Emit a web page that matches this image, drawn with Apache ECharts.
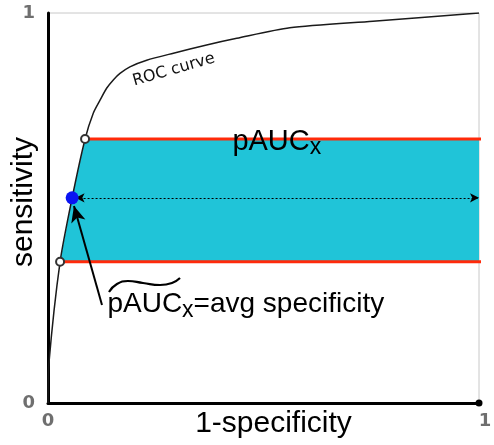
<!DOCTYPE html>
<html>
<head>
<meta charset="utf-8">
<style>
  html, body { margin: 0; padding: 0; background: #fff; }
  #chart { width: 494px; height: 445px; }
</style>
<script src="https://cdn.jsdelivr.net/npm/echarts@6/dist/echarts.min.js"></script>
</head>
<body>
<div id="chart"></div>
<script>
// ROC curve (1-specificity, sensitivity)
var rocX = [0, 0.002, 0.028, 0.056, 0.086, 0.105, 0.121, 0.136, 0.152, 0.167, 0.190, 0.229, 0.291, 0.368, 0.438, 0.561, 0.754, 1];
var rocY = [0, 0.10, 0.362, 0.526, 0.677, 0.743, 0.777, 0.807, 0.829, 0.845, 0.862, 0.879, 0.897, 0.918, 0.935, 0.962, 0.979, 1];

// band of sensitivity and where the curve crosses it
var bandY = [0.362, 0.677];
var bandCurveX = [0.028, 0.086];
var bandMidCurve = [0.056, 0.526];   // blue point = avg specificity
var bandEndX = 1.006;

// wavy tilde over the lower label
var tildeX = [0.1415, 0.160, 0.1856, 0.2204, 0.2599, 0.2877, 0.3063];
var tildeY = [0.2846, 0.305, 0.3128, 0.3077, 0.3026, 0.3077, 0.3205];

// arrow from label to blue point
var arrowFrom = [0.1253, 0.2513];
var arrowTo = [0.0603, 0.505];

// text anchors
var rocLabelAt = [0.293, 0.853];
var topLabelAt = [0.429, 0.669];
var lowLabelAt = [0.139, 0.2513];

var axisTicks = ['0', '1'];

var rocData = rocX.map(function (x, i) { return [x, rocY[i]]; });
var tildeData = tildeX.map(function (x, i) { return [x, tildeY[i]]; });

var bandPoly = [
  [bandCurveX[0], bandY[0]],
  bandMidCurve,
  [bandCurveX[1], bandY[1]],
  [1, bandY[1]],
  [1, bandY[0]]
];

var chart = echarts.init(document.getElementById('chart'));

var tickLabel = {
  fontFamily: 'DejaVu Sans',
  fontWeight: 'bold',
  fontSize: 18,
  color: '#6f6f6f'
};

var option = {
  animation: false,
  grid: {
    left: 48, right: 15, top: 13, bottom: 42,
    containLabel: false, outerBoundsMode: 'none',
    show: true, borderColor: '#c8c8c8', borderWidth: 1
  },
  xAxis: {
    type: 'value', min: 0, max: 1, interval: 1,
    name: '1-specificity', nameLocation: 'middle', nameGap: 6, nameMoveOverlap: false,
    nameTextStyle: { fontFamily: 'Liberation Sans', fontSize: 30, color: '#000', padding: [0, 0, 0, 20] },
    axisLine: { lineStyle: { color: '#000', width: 3 }, symbol: ['none', 'circle'], symbolSize: [7, 7] },
    axisTick: { show: false },
    splitLine: { show: false },
    axisLabel: Object.assign({}, tickLabel, {
      margin: 9,
      formatter: function (v) { return v === 1 ? '{r|' + axisTicks[1] + '}' : axisTicks[0]; },
      rich: { r: Object.assign({}, tickLabel, { padding: [0, 0, 0, 12] }) }
    })
  },
  yAxis: {
    type: 'value', min: 0, max: 1, interval: 1,
    name: 'sensitivity', nameLocation: 'middle', nameGap: 9, nameMoveOverlap: false,
    nameTextStyle: { fontFamily: 'Liberation Sans', fontSize: 30, color: '#000', padding: [0, 0, 0, 12] },
    axisLine: { lineStyle: { color: '#000', width: 3 } },
    axisTick: { show: false },
    splitLine: { show: false },
    axisLabel: Object.assign({}, tickLabel, {
      margin: 13,
      formatter: function (v) { return v === 1 ? axisTicks[1] : axisTicks[0]; }
    })
  },
  series: [
    {
      // cyan band between the two sensitivity levels
      type: 'custom',
      silent: true,
      z: 1,
      data: [0],
      renderItem: function (params, api) {
        var pts = bandPoly.map(function (p) { return api.coord(p); });
        return { type: 'polygon', shape: { points: pts }, style: { fill: '#20c4d8' } };
      }
    },
    {
      type: 'line', silent: true, z: 3, symbol: 'none', clip: false,
      data: [[bandCurveX[1], bandY[1]], [bandEndX, bandY[1]]],
      lineStyle: { color: '#ff2a0a', width: 3 }
    },
    {
      type: 'line', silent: true, z: 3, symbol: 'none', clip: false,
      data: [[bandCurveX[0], bandY[0]], [bandEndX, bandY[0]]],
      lineStyle: { color: '#ff2a0a', width: 3 }
    },
    {
      // ROC curve
      type: 'line', silent: true, z: 4, symbol: 'none', smooth: 0.25,
      data: rocData,
      lineStyle: { color: '#1a1a1a', width: 1.5 },
      markLine: {
        silent: true,
        symbol: ['arrow', 'arrow'],
        symbolSize: [7, 9],
        label: { show: false },
        lineStyle: { color: '#000', width: 1, type: [2, 2] },
        data: [[{ coord: [bandMidCurve[0] + 0.008, bandMidCurve[1]] }, { coord: [1, bandMidCurve[1]] }]]
      }
    },
    {
      // annotation arrow
      type: 'line', silent: true, z: 5, symbol: 'none',
      data: [],
      markLine: {
        silent: true,
        symbol: ['none', 'arrow'],
        symbolSize: [11, 16],
        label: { show: false },
        lineStyle: { color: '#000', width: 2, type: 'solid' },
        data: [[{ coord: arrowFrom }, { coord: arrowTo }]]
      }
    },
    {
      // tilde
      type: 'line', silent: true, z: 5, symbol: 'none', smooth: 0.5,
      data: tildeData,
      lineStyle: { color: '#000', width: 2.2 }
    },
    {
      type: 'scatter', silent: true, z: 6,
      symbol: 'emptyCircle', symbolSize: 8,
      itemStyle: { color: '#333', borderWidth: 1.5, opacity: 1 },
      data: [[bandCurveX[0], bandY[0]], [bandCurveX[1], bandY[1]]]
    },
    {
      type: 'scatter', silent: true, z: 7,
      symbolSize: 13,
      itemStyle: { color: '#0a14f2', opacity: 1 },
      data: [bandMidCurve]
    },
    {
      // text annotations
      type: 'scatter', silent: true, z: 8,
      symbolSize: 1,
      itemStyle: { color: 'rgba(0,0,0,0)', opacity: 1 },
      data: [
        { value: rocLabelAt, label: {
          show: true, position: [0, 0], align: 'center', verticalAlign: 'middle', rotate: 16,
          formatter: 'ROC curve', fontFamily: 'DejaVu Sans', fontSize: 16, color: '#111'
        } },
        { value: topLabelAt, label: {
          show: true, position: [0, 0], align: 'left', verticalAlign: 'middle', color: '#000',
          formatter: '{m|pAUC}{s|x}',
          rich: {
            m: { fontFamily: 'Liberation Sans', fontSize: 29, color: '#000' },
            s: { fontFamily: 'Liberation Sans', fontSize: 23, color: '#000', padding: [12, 0, 0, 0] }
          }
        } },
        { value: lowLabelAt, label: {
          show: true, position: [0, 0], align: 'left', verticalAlign: 'middle', color: '#000',
          formatter: '{m|pAUC}{s|x}{m|=avg specificity}',
          rich: {
            m: { fontFamily: 'Liberation Sans', fontSize: 28, color: '#000' },
            s: { fontFamily: 'Liberation Sans', fontSize: 23, color: '#000', padding: [12, 0, 0, 0] }
          }
        } }
      ]
    }
  ]
};

chart.setOption(option);
</script>
</body>
</html>
